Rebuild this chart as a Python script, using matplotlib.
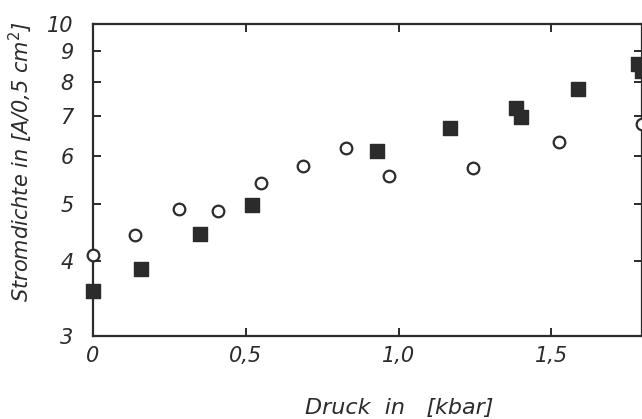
import matplotlib
matplotlib.use("Agg")
from matplotlib import pyplot as plt
from matplotlib.ticker import FixedLocator, FixedFormatter, NullLocator

# Open circles
druck_kreis = [0.0, 0.137, 0.28, 0.41, 0.55, 0.687, 0.828, 0.969, 1.245, 1.525, 1.795]
strom_kreis = [4.10, 4.43, 4.90, 4.86, 5.41, 5.78, 6.20, 5.56, 5.74, 6.34, 6.80]

# Filled squares
druck_quadrat = [0.0, 0.157, 0.35, 0.52, 0.93, 1.169, 1.385, 1.401, 1.588, 1.785, 1.795]
strom_quadrat = [3.57, 3.88, 4.45, 4.97, 6.13, 6.70, 7.23, 6.99, 7.78, 8.57, 8.34]

x_ticks = [0, 0.5, 1.0, 1.5]
x_labels = ["0", "0,5", "1,0", "1,5"]
y_ticks = [3, 4, 5, 6, 7, 8, 9, 10]
y_labels = ["3", "4", "5", "6", "7", "8", "9", "10"]

ink = "#2b2b2b"

fig = plt.figure(figsize=(6.42, 4.19), dpi=100)
ax = fig.add_axes([93 / 642, 83 / 419, 548.5 / 642, 312 / 419])

ax.scatter(druck_kreis, strom_kreis, s=70, facecolors="white", edgecolors=ink,
           linewidths=1.6, marker="o", clip_on=False, zorder=3)
ax.scatter(druck_quadrat, strom_quadrat, s=105, color=ink, marker="s",
           clip_on=False, zorder=3)

ax.set_yscale("log")
ax.set_xlim(0, 1.795)
ax.set_ylim(3, 10)

ax.yaxis.set_major_locator(FixedLocator(y_ticks))
ax.yaxis.set_major_formatter(FixedFormatter(y_labels))
ax.yaxis.set_minor_locator(NullLocator())
ax.set_xticks(x_ticks)
ax.set_xticklabels(x_labels)

for s in ax.spines.values():
    s.set_linewidth(1.6)
    s.set_color(ink)

ax.tick_params(direction="in", length=6, width=1.4, color=ink,
               top=True, right=True, labelsize=15, labelcolor=ink)
ax.tick_params(axis="y", pad=14)
ax.tick_params(axis="x", pad=7)
for lab in ax.get_xticklabels() + ax.get_yticklabels():
    lab.set_fontstyle("italic")

ax.set_xlabel("Druck  in   [kbar]", fontsize=16, style="italic", color=ink)
ax.set_ylabel("Stromdichte in [A/0,5 cm$^2$]", fontsize=15, style="italic", color=ink)
ax.xaxis.set_label_coords(0.558, -0.2)
ax.yaxis.set_label_coords(-0.106, 0.56)

fig.savefig("out.png", dpi=100)
